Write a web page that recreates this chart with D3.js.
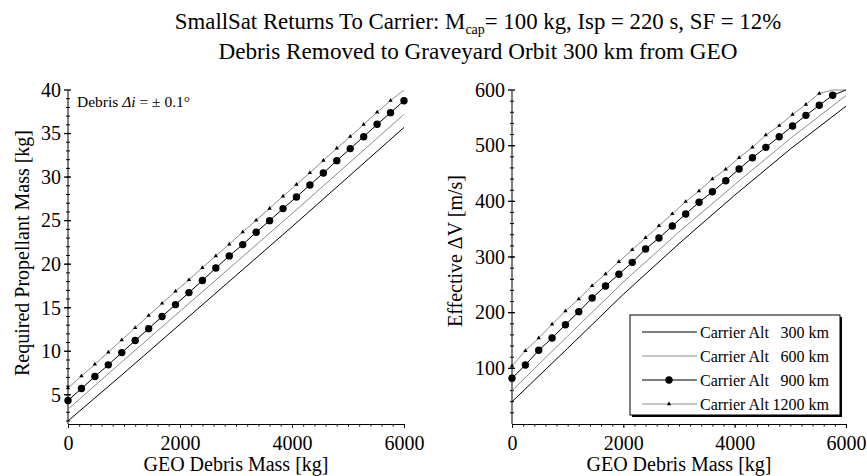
<!DOCTYPE html>
<html>
<head>
<meta charset="utf-8">
<script src="https://cdn.jsdelivr.net/npm/d3@7"></script>
<style>
  html, body { margin: 0; padding: 0; background: #fff; }
  svg text { font-family: "Liberation Serif", "Times New Roman", serif; fill: #000; }
</style>
</head>
<body>
<svg id="chart" width="867" height="476"></svg>
<script>
// ---------- data ----------
const debrisMass = [0, 240, 480, 720, 960, 1200, 1440, 1680, 1920, 2160, 2400, 2640, 2880,
  3120, 3360, 3600, 3840, 4080, 4320, 4560, 4800, 5040, 5280, 5520, 5760, 6000];
const massCoarse = [0, 1000, 2000, 3000, 4000, 5000, 6000];

// Required propellant mass [kg]
const prop300 = [2.0, 7.5, 13.1, 18.7, 24.3, 30.0, 35.7];            // at massCoarse
const prop600 = [3.35, 9.0, 14.6, 20.2, 25.8, 31.5, 37.2];           // at massCoarse
const prop900 = [4.35, 5.72, 7.10, 8.44, 9.85, 11.23, 12.60, 14.00, 15.36, 16.74, 18.12, 19.56,
  20.95, 22.25, 23.67, 25.00, 26.38, 27.72, 29.10, 30.47, 31.89, 33.27, 34.64, 36.06, 37.40, 38.77];
const prop1200 = [5.77, 7.15, 8.50, 9.90, 11.30, 12.70, 14.10, 15.50, 16.90, 18.20, 19.60, 20.95,
  22.30, 23.70, 25.05, 26.40, 27.80, 29.15, 30.50, 31.90, 33.30, 34.65, 36.05, 37.45, 38.80, 40.10];

// Effective delta-V [m/s]
const dv300 = [40, 136, 233, 324, 411, 494, 571];                     // at massCoarse
const dv600 = [60, 158, 255, 345, 430, 513, 590];                     // at massCoarse
const dv900 = [82.1, 106.0, 132.4, 154.5, 178.4, 201.8, 226.4, 247.9, 268.9, 290.4, 314.4, 334.1,
  355.7, 377.3, 398.3, 417.3, 437.1, 458.1, 478.4, 497.0, 516.1, 535.3, 554.5, 572.5, 590.5, 608];
const dv1200 = [104, 131.7, 154.5, 179, 203, 224.6, 248.5, 269.5, 291.5, 313, 334.5, 356,
  377.5, 399.5, 418.7, 440, 457.5, 478.4, 497, 519, 536, 556, 574, 593.8, 611, 628];

const xTicks = [0, 2000, 4000, 6000];
const propTicks = [5, 10, 15, 20, 25, 30, 35, 40];
const dvTicks = [100, 200, 300, 400, 500, 600];
const legendLabels = ["300 km", "600 km", "900 km", "1200 km"];

// ---------- drawing ----------
const svg = d3.select("#chart");
const GRAY = "#8c8c8c";

function drawPanel(opt) {
  const x = d3.scaleLinear().domain([0, 6000]).range([opt.x0, opt.x1]);
  const y = d3.scaleLinear().domain(opt.yDomain).range([424, 90]).clamp(true);
  const g = svg.append("g");

  // x axis
  const xAxis = d3.axisBottom(x).tickValues(xTicks).tickSize(4).tickPadding(8).tickFormat(d3.format("d"));
  const xMinor = d3.axisBottom(x).tickValues(d3.range(0, 6001, 200)).tickSize(2.5).tickFormat("");
  const gxm = g.append("g").attr("transform", "translate(0,424)").call(xMinor);
  const gx = g.append("g").attr("transform", "translate(0,424)").call(xAxis);
  [gx, gxm].forEach(a => { a.select(".domain").attr("stroke", "#000").attr("stroke-width", 1);
    a.selectAll(".tick line").attr("stroke", "#000"); });
  gx.selectAll("text").attr("font-size", 20).attr("font-family", "Liberation Serif").attr("fill", "#000");

  // y axis (ticks crossing the axis line)
  const ya = g.append("g").attr("transform", `translate(${opt.x0},0)`);
  ya.append("line").attr("x1", 0).attr("x2", 0).attr("y1", 424).attr("y2", 90).attr("stroke", "#000");
  ya.selectAll("line.minor").data(opt.yMinor).join("line").attr("class", "minor")
    .attr("x1", -2).attr("x2", 2).attr("y1", d => y(d)).attr("y2", d => y(d))
    .attr("stroke", "#000");
  ya.selectAll("line.major").data(opt.yTicks).join("line").attr("class", "major")
    .attr("x1", -4).attr("x2", 3).attr("y1", d => y(d)).attr("y2", d => y(d))
    .attr("stroke", "#000").attr("stroke-width", 1.3);
  ya.selectAll("text").data(opt.yTicks).join("text")
    .attr("x", -7).attr("y", d => y(d)).attr("dy", "0.34em")
    .attr("text-anchor", "end").attr("font-size", 20).text(d => d);

  // axis titles
  g.append("text").attr("x", (opt.x0 + opt.x1) / 2).attr("y", 471)
    .attr("text-anchor", "middle").attr("font-size", 20).text("GEO Debris Mass [kg]");
  g.append("text").attr("transform", `translate(${opt.yTitleX},${opt.yTitleY}) rotate(-90)`)
    .attr("text-anchor", "middle").attr("font-size", 20).text(opt.yTitle);

  const line = d3.line().x(d => x(d[0])).y(d => y(d[1]));
  const coarse = arr => massCoarse.map((m, i) => [m, arr[i]]);
  const fine = arr => debrisMass.map((m, i) => [m, arr[i]]);
  const [ymin, ymax] = opt.yDomain;
  const inside = d => d[1] >= ymin && d[1] <= ymax;

  g.append("path").attr("d", line(coarse(opt.s300))).attr("fill", "none").attr("stroke", "#000").attr("stroke-width", 1);
  g.append("path").attr("d", line(coarse(opt.s600))).attr("fill", "none").attr("stroke", GRAY).attr("stroke-width", 1);
  g.append("path").attr("d", line(fine(opt.s1200))).attr("fill", "none").attr("stroke", GRAY).attr("stroke-width", 1);
  g.append("path").attr("d", line(fine(opt.s900))).attr("fill", "none").attr("stroke", "#000").attr("stroke-width", 1);

  g.selectAll("path.tri").data(fine(opt.s1200).filter(inside)).join("path").attr("class", "tri")
    .attr("d", d3.symbol().type(d3.symbolTriangle).size(8)())
    .attr("transform", d => `translate(${x(d[0])},${y(d[1])})`).attr("fill", "#000");
  g.selectAll("circle.dot").data(fine(opt.s900).filter(inside)).join("circle").attr("class", "dot")
    .attr("cx", d => x(d[0])).attr("cy", d => y(d[1])).attr("r", 3.7).attr("fill", "#000");
  return { g, x, y };
}

drawPanel({
  x0: 68, x1: 404, yDomain: [1.65, 40], yTicks: propTicks, yMinor: d3.range(2, 40, 1),
  yTitle: "Required Propellant Mass [kg]", yTitleX: 29, yTitleY: 253,
  s300: prop300, s600: prop600, s900: prop900, s1200: prop1200
});
drawPanel({
  x0: 512, x1: 846, yDomain: [0, 600], yTicks: dvTicks, yMinor: d3.range(20, 600, 20),
  yTitle: "Effective \u0394V [m/s]", yTitleX: 462, yTitleY: 251,
  s300: dv300, s600: dv600, s900: dv900, s1200: dv1200
});

// annotation (left panel)
const ann = svg.append("text").attr("x", 77).attr("y", 107).attr("font-size", 15.5);
ann.append("tspan").text("Debris ");
ann.append("tspan").attr("font-style", "italic").text("\u0394i");
ann.append("tspan").text(" = \u00b1 0.1\u00b0");

// titles
const t1 = svg.append("text").attr("x", 478).attr("y", 29).attr("text-anchor", "middle").attr("font-size", 22.8);
t1.append("tspan").text("SmallSat Returns To Carrier: M");
t1.append("tspan").attr("font-size", 14).attr("dy", 5).text("cap");
t1.append("tspan").attr("dy", -5).text("= 100 kg, Isp = 220 s, SF = 12%");
svg.append("text").attr("x", 478).attr("y", 58.5).attr("text-anchor", "middle").attr("font-size", 23.2)
  .text("Debris Removed to Graveyard Orbit 300 km from GEO");

// legend
const lg = svg.append("g");
const lx = 630, ly = 315, lw = 210, lh = 100;
lg.append("rect").attr("x", lx + 2).attr("y", ly + 2).attr("width", lw).attr("height", lh).attr("fill", "#000");
lg.append("rect").attr("x", lx).attr("y", ly).attr("width", lw).attr("height", lh)
  .attr("fill", "#fff").attr("stroke", "#000").attr("stroke-width", 1);
const rowY = d3.scaleBand().domain(legendLabels).range([320, 416]);
const styles = [
  { c: "#000", m: null }, { c: GRAY, m: null }, { c: "#000", m: "dot" }, { c: GRAY, m: "tri" }
];
legendLabels.forEach((lab, i) => {
  const cy = rowY(lab) + rowY.bandwidth() / 2;
  lg.append("line").attr("x1", 642).attr("x2", 697).attr("y1", cy).attr("y2", cy)
    .attr("stroke", styles[i].c).attr("stroke-width", 1);
  if (styles[i].m === "dot") lg.append("circle").attr("cx", 669).attr("cy", cy).attr("r", 3.7).attr("fill", "#000");
  if (styles[i].m === "tri") lg.append("path").attr("d", d3.symbol().type(d3.symbolTriangle).size(8)())
    .attr("transform", `translate(669,${cy})`).attr("fill", "#000");
  lg.append("text").attr("x", 700).attr("y", cy).attr("dy", "0.35em").attr("font-size", 16).text("Carrier Alt");
  lg.append("text").attr("x", 829).attr("y", cy).attr("dy", "0.35em").attr("text-anchor", "end")
    .attr("font-size", 16).text(lab);
});
</script>
</body>
</html>
